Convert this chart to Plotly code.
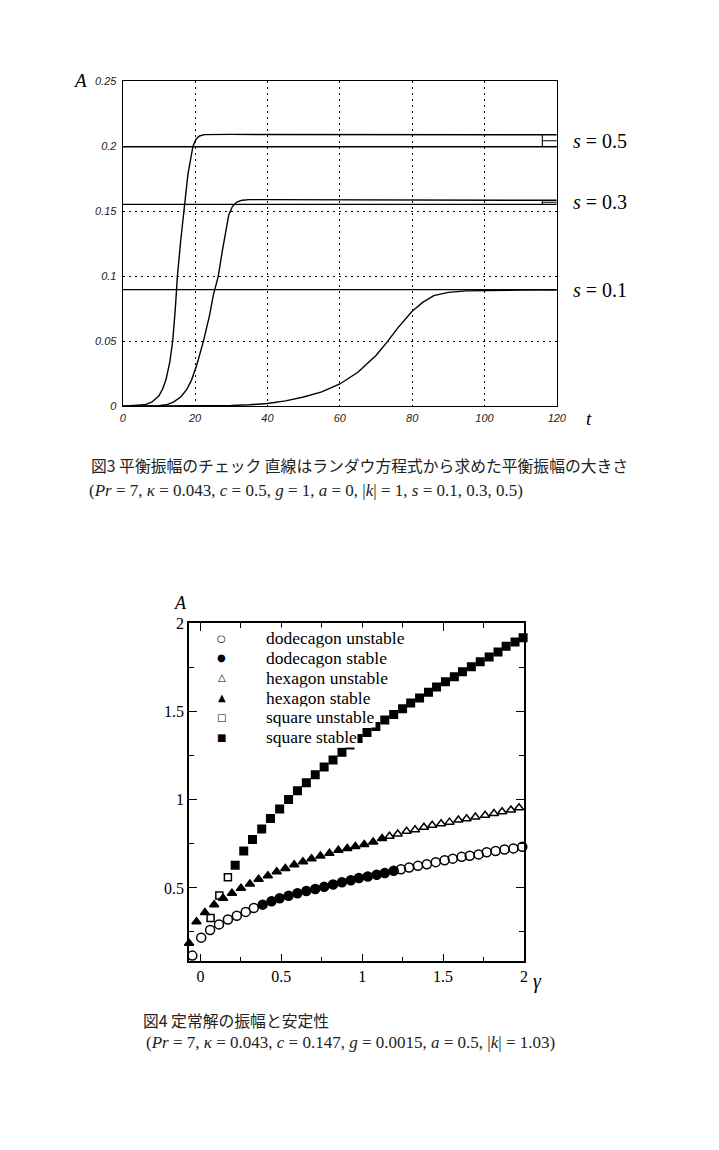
import plotly.graph_objects as go

W, H = 719, 1150

# ---------------- Figure 3 data (time evolution of amplitude) ----------------
t_axis_ticks = [0, 20, 40, 60, 80, 100, 120]
A_axis_ticks = [0, 0.05, 0.1, 0.15, 0.2, 0.25]
A_tick_labels = ["0", "0.05", "0.1", "0.15", "0.2", "0.25"]

t_s05 = [0, 4, 6, 8, 10, 11, 12, 13, 13.8, 14.5, 15.1, 16, 16.9, 18, 19.4, 20.3, 21.2, 22.5, 30, 60, 90, 120]
A_s05 = [0, 0.0003, 0.001, 0.003, 0.008, 0.013, 0.021, 0.034, 0.05, 0.074, 0.1, 0.127, 0.15, 0.178, 0.2,
         0.2055, 0.2078, 0.2088, 0.209, 0.2089, 0.2088, 0.2087]

t_s03 = [0, 8, 10, 12, 14, 16, 17.6, 19, 20.5, 22.3, 24, 25, 26.4, 27.5, 28.5, 29.3, 30.3, 31.5, 33, 35, 40, 60, 90, 120]
A_s03 = [0, 0, 0.0003, 0.001, 0.003, 0.007, 0.0124, 0.02, 0.032, 0.05, 0.07, 0.085, 0.1, 0.119, 0.136, 0.147,
         0.1535, 0.157, 0.1584, 0.1588, 0.1588, 0.1587, 0.1585, 0.1583]

t_s01 = [0, 20, 30, 35, 40, 45, 50, 55, 60, 65, 70, 73, 76, 80, 83, 86, 90, 95, 100, 110, 120]
A_s01 = [0, 0.0002, 0.0005, 0.001, 0.002, 0.004, 0.007, 0.011, 0.017, 0.026, 0.039, 0.049, 0.06, 0.073,
         0.080, 0.085, 0.0875, 0.0886, 0.089, 0.0893, 0.0894]

s_values = ["0.5", "0.3", "0.1"]
landau_A = [0.1995, 0.1552, 0.0896]   # equilibrium amplitudes from the Landau equation
landau_t = [0, 120]

# ---------------- Figure 4 data (steady amplitudes and stability) ----------------
dod_g = [-0.05, 0.005, 0.06, 0.115, 0.17, 0.225, 0.28, 0.33, 0.385, 0.44, 0.49, 0.545, 0.6, 0.655, 0.71,
         0.765, 0.82, 0.875, 0.93, 0.98, 1.035, 1.09, 1.14, 1.195, 1.24, 1.29, 1.345, 1.4, 1.455, 1.51,
         1.56, 1.615, 1.665, 1.72, 1.77, 1.825, 1.88, 1.935, 1.99]
dod_A = [0.116, 0.218, 0.261, 0.293, 0.321, 0.342, 0.364, 0.386, 0.405, 0.424, 0.441, 0.455, 0.47, 0.482,
         0.494, 0.506, 0.519, 0.532, 0.543, 0.556, 0.565, 0.575, 0.584, 0.597, 0.606, 0.616, 0.625, 0.634,
         0.646, 0.657, 0.666, 0.676, 0.682, 0.69, 0.702, 0.709, 0.718, 0.724, 0.733]
dod_stable = [False] * 8 + [True] * 16 + [False] * 15

hex_g = [-0.07, -0.024, 0.028, 0.085, 0.14, 0.195, 0.251, 0.306, 0.36, 0.417, 0.472, 0.525, 0.58, 0.634,
         0.687, 0.742, 0.798, 0.853, 0.908, 0.958, 1.013, 1.068, 1.123, 1.169, 1.22, 1.275, 1.327, 1.382,
         1.433, 1.488, 1.54, 1.595, 1.646, 1.70, 1.76, 1.815, 1.865, 1.92, 1.97]
hex_A = [0.186, 0.308, 0.36, 0.405, 0.441, 0.47, 0.498, 0.522, 0.549, 0.569, 0.592, 0.61, 0.631, 0.648,
         0.666, 0.681, 0.696, 0.713, 0.724, 0.735, 0.746, 0.761, 0.78, 0.793, 0.806, 0.821, 0.83, 0.844,
         0.855, 0.864, 0.873, 0.885, 0.892, 0.902, 0.912, 0.922, 0.932, 0.942, 0.955]
hex_stable = [True] * 23 + [False] * 16

sq_g = [0.063, 0.117, 0.17, 0.215, 0.268, 0.322, 0.379, 0.433, 0.49, 0.545, 0.6, 0.655, 0.71, 0.765, 0.82,
        0.875, 0.925, 0.975, 1.03, 1.085, 1.14, 1.195, 1.25, 1.3, 1.355, 1.41, 1.46, 1.515, 1.57, 1.62,
        1.675, 1.73, 1.785, 1.84, 1.89, 1.945, 1.995]
sq_A = [0.33, 0.457, 0.56, 0.629, 0.709, 0.774, 0.834, 0.893, 0.948, 1.002, 1.051, 1.097, 1.142, 1.185,
        1.226, 1.269, 1.31, 1.347, 1.381, 1.415, 1.452, 1.484, 1.516, 1.549, 1.577, 1.609, 1.639, 1.669,
        1.698, 1.726, 1.754, 1.782, 1.81, 1.838, 1.87, 1.894, 1.919]
sq_stable = [False] * 3 + [True] * 34

g_ticks = [0, 0.5, 1, 1.5, 2]
g_tick_labels = ["0", "0.5", "1", "1.5", "2"]
A4_ticks = [0.5, 1, 1.5, 2]
A4_tick_labels = ["0.5", "1", "1.5", "2"]

legend_names = ["dodecagon unstable", "dodecagon stable", "hexagon unstable",
                "hexagon stable", "square unstable", "square stable"]
legend_glyphs = ["○", "●", "△", "▲", "□", "■"]


def pick(xs, ys, flags, want):
    return ([x for x, f in zip(xs, flags) if f == want], [y for y, f in zip(ys, flags) if f == want])


def px(x):
    return x / W


def py(y):
    return 1 - y / H


X1_DOM = [px(122), px(564)]
Y1_DOM = [py(403), py(74)]
X1_RANGE = [0, 120]
Y1_RANGE = [0, 0.25]


def data_to_paper(xv, yv):
    xp = X1_DOM[0] + (xv - X1_RANGE[0]) / (X1_RANGE[1] - X1_RANGE[0]) * (X1_DOM[1] - X1_DOM[0])
    yp = Y1_DOM[0] + (yv - Y1_RANGE[0]) / (Y1_RANGE[1] - Y1_RANGE[0]) * (Y1_DOM[1] - Y1_DOM[0])
    return xp, yp


fig = go.Figure()

# ---- Figure 3 traces ----
line_style = dict(color="black", width=1.4)
for tt, aa in [(t_s05, A_s05), (t_s03, A_s03), (t_s01, A_s01)]:
    fig.add_trace(go.Scatter(x=tt, y=aa, mode="lines", line=line_style, showlegend=False,
                             xaxis="x", yaxis="y", hoverinfo="skip"))
for la in landau_A:
    fig.add_trace(go.Scatter(x=landau_t, y=[la, la], mode="lines", line=line_style, showlegend=False,
                             xaxis="x", yaxis="y", hoverinfo="skip"))

# brackets linking each simulated plateau to its Landau value
plateaus = [A_s05[-1], A_s03[-1], A_s01[-1]]
for la, pa, s in zip(landau_A, plateaus, s_values):
    mid = (la + pa) / 2
    fig.add_trace(go.Scatter(x=[116, 116, None, 116, 121], y=[la, pa, None, mid, mid], mode="lines",
                             line=dict(color="black", width=1.1), showlegend=False, cliponaxis=False,
                             xaxis="x", yaxis="y", hoverinfo="skip"))
    xp, yp = data_to_paper(124.0, mid)
    fig.add_annotation(x=xp, y=yp, xref="paper", yref="paper", xanchor="left", yanchor="middle",
                       text="<i>s</i> = " + s, showarrow=False,
                       font=dict(family="Liberation Serif", size=20, color="black"))

# ---- Figure 4 traces ----
series = [
    (dod_g, dod_A, dod_stable, False, "circle-open", 9),
    (dod_g, dod_A, dod_stable, True, "circle", 9),
    (hex_g, hex_A, hex_stable, False, "triangle-up-open", 8),
    (hex_g, hex_A, hex_stable, True, "triangle-up", 8),
    (sq_g, sq_A, sq_stable, False, "square-open", 7),
    (sq_g, sq_A, sq_stable, True, "square", 7.5),
]
for name, (gx, ay, flags, want, sym, size) in zip(legend_names, series):
    xs, ys = pick(gx, ay, flags, want)
    fig.add_trace(go.Scatter(x=xs, y=ys, mode="markers", name=name, showlegend=False,
                             marker=dict(symbol=sym, size=size, color="black",
                                         line=dict(color="black", width=1.5)),
                             cliponaxis=False, xaxis="x2", yaxis="y2"))

# legend drawn as text rows (white background hides points beneath, as in the original)
for i, (name, glyph) in enumerate(zip(legend_names, legend_glyphs)):
    yrow = 638 + 20 * i
    fig.add_annotation(x=px(223), y=py(yrow), xref="paper", yref="paper", xanchor="center",
                       yanchor="middle", text=glyph, showarrow=False, borderpad=0,
                       font=dict(family="DejaVu Sans", size=10, color="black"))
    fig.add_annotation(x=px(267), y=py(yrow), xref="paper", yref="paper", xanchor="left",
                       yanchor="middle", text=name, showarrow=False, bgcolor="white", borderpad=0,
                       font=dict(family="Liberation Serif", size=17.5, color="black"))

# ---- axes ----
tick_font3 = dict(family="Liberation Sans", size=11, color="#222", style="italic")
fig.update_layout(
    xaxis=dict(domain=X1_DOM, range=X1_RANGE, tickvals=t_axis_ticks, anchor="y",
               showline=True, mirror=True, linecolor="black", linewidth=1.2, ticks="",
               showgrid=True, gridcolor="black", griddash="2px,4px", gridwidth=1.1, zeroline=False,
               tickfont=tick_font3, ticklabelstandoff=2),
    yaxis=dict(domain=Y1_DOM, range=Y1_RANGE, tickvals=A_axis_ticks, ticktext=A_tick_labels,
               anchor="x", showline=True, mirror=True, linecolor="black", linewidth=1.2, ticks="",
               showgrid=True, gridcolor="black", griddash="2px,4px", gridwidth=1.1, zeroline=False,
               tickfont=tick_font3, ticklabelstandoff=3),
    xaxis2=dict(domain=[px(189.5), px(530.5)], range=[-0.07, 2.0], tickvals=g_ticks,
                ticktext=g_tick_labels, anchor="y2", showline=True, mirror="ticks", linecolor="black",
                linewidth=1.5, ticks="inside", ticklen=8, tickwidth=1.3, tickcolor="black",
                minor=dict(ticks="inside", ticklen=5, tickwidth=1.2, dtick=0.25, tick0=0, tickcolor="black"),
                showgrid=False, zeroline=False,
                tickfont=dict(family="Liberation Serif", size=16, color="black")),
    yaxis2=dict(domain=[py(965), py(623)], range=[0.084, 2.0], tickvals=A4_ticks, ticktext=A4_tick_labels,
                anchor="x2", showline=True, mirror="ticks", linecolor="black", linewidth=1.5,
                ticks="inside", ticklen=8, tickwidth=1.3, tickcolor="black",
                minor=dict(ticks="inside", ticklen=5, tickwidth=1.2, dtick=0.25, tick0=0, tickcolor="black"),
                showgrid=False, zeroline=False,
                tickfont=dict(family="Liberation Serif", size=16, color="black")),
    showlegend=False,
    width=W, height=H, autosize=False,
    margin=dict(l=0, r=0, t=0, b=0),
    paper_bgcolor="white", plot_bgcolor="white",
)

# ---- axis titles ----
serif_it = dict(family="Liberation Serif", size=19, color="black")
fig.add_annotation(x=px(78), y=py(73), xref="paper", yref="paper", text="<i>A</i>", showarrow=False,
                   xanchor="center", yanchor="middle", font=serif_it)
fig.add_annotation(x=px(597), y=py(416), xref="paper", yref="paper", text="<i>t</i>", showarrow=False,
                   xanchor="center", yanchor="middle", font=serif_it)
fig.add_annotation(x=px(181), y=py(602), xref="paper", yref="paper", text="<i>A</i>", showarrow=False,
                   xanchor="center", yanchor="middle", font=dict(family="Liberation Serif", size=18, color="black"))
fig.add_annotation(x=px(544), y=py(985), xref="paper", yref="paper", text="<i>γ</i>", showarrow=False,
                   xanchor="center", yanchor="middle", font=dict(family="Liberation Serif", size=20, color="black"))

# ---- captions ----
jp = dict(family="Noto Sans CJK JP", size=15.8, color="#222")
mathf = dict(family="Liberation Serif", size=17, color="#222")
fig.add_annotation(x=px(88), y=py(463), xref="paper", yref="paper", xanchor="left", yanchor="middle",
                   text="図3 平衡振幅のチェック 直線はランダウ方程式から求めた平衡振幅の大きさ",
                   showarrow=False, font=jp)
fig.add_annotation(x=px(86), y=py(488), xref="paper", yref="paper", xanchor="left", yanchor="middle",
                   text="(<i>Pr</i> = 7, <i>κ</i> = 0.043, <i>c</i> = 0.5, <i>g</i> = 1, <i>a</i> = 0, "
                        "|<i>k</i>| = 1, <i>s</i> = 0.1, 0.3, 0.5)",
                   showarrow=False, font=mathf)
fig.add_annotation(x=px(141), y=py(1025), xref="paper", yref="paper", xanchor="left", yanchor="middle",
                   text="図4 定常解の振幅と安定性", showarrow=False, font=jp)
fig.add_annotation(x=px(144), y=py(1047), xref="paper", yref="paper", xanchor="left", yanchor="middle",
                   text="(<i>Pr</i> = 7, <i>κ</i> = 0.043, <i>c</i> = 0.147, <i>g</i> = 0.0015, "
                        "<i>a</i> = 0.5, |<i>k</i>| = 1.03)",
                   showarrow=False, font=mathf)

fig.write_html("out.html")
